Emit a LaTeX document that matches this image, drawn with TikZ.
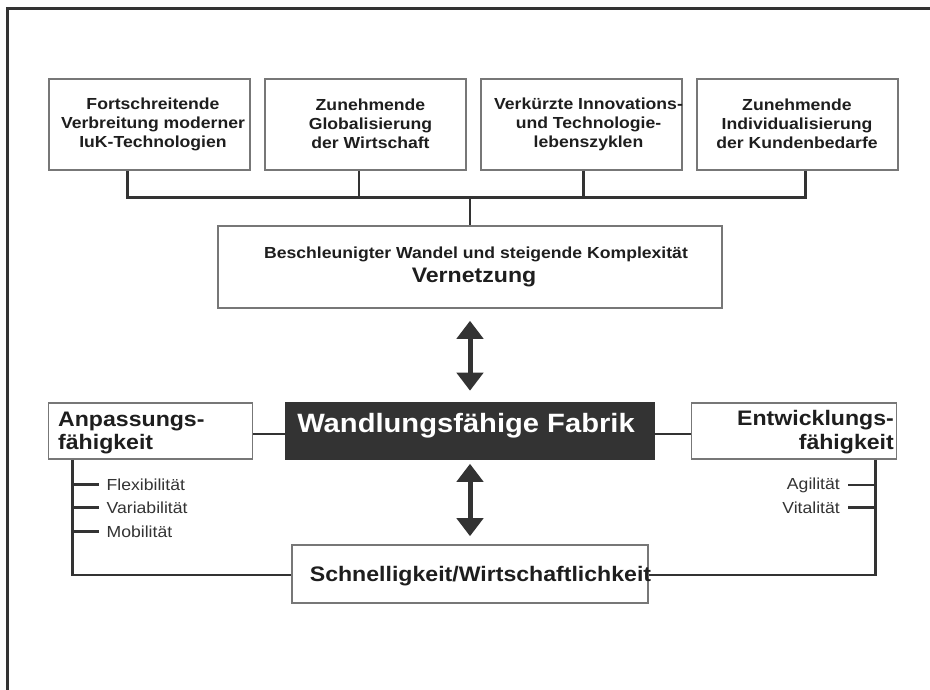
\documentclass[tikz,border=0pt]{standalone}
\usepackage{fontspec}
\setmainfont{Liberation Sans}[FakeStretch=1.1]
\usetikzlibrary{arrows.meta}
\definecolor{ink}{HTML}{1E1E1E}
\definecolor{linegray}{HTML}{333333}
\definecolor{boxgray}{HTML}{777777}
\definecolor{darkfill}{HTML}{333333}
\begin{document}
\begin{tikzpicture}[x=1pt,y=-1pt,
  box/.style={draw=boxgray,line width=1.6pt,fill=white,rectangle,inner sep=0pt},
  topbox/.style={box,minimum width=201pt,minimum height=91pt},
  toptext/.style={font=\bfseries\fontsize{16}{19}\selectfont,align=center,text=ink,inner sep=0pt},
  sidetext/.style={font=\bfseries\fontsize{21}{23.5}\selectfont,text=ink,inner sep=0pt},
  itemtext/.style={font=\fontsize{16}{19}\selectfont,text=linegray,inner sep=0pt},
  bus/.style={draw=linegray,line width=3pt},
  tick/.style={draw=linegray,line width=2.8pt},
  dblarrow/.style={draw=linegray,line width=5pt,
    {Triangle[width=26pt,length=18pt]}-{Triangle[width=26pt,length=18pt]}}
]
\useasboundingbox (0,0) rectangle (930,690);

% outer frame (top and left edges)
\draw[linegray,line width=3pt] (7.5,690) -- (7.5,9) -- (930,9);

% four driver boxes
\node[topbox] (b1) at (149.7,124.5) {};
\node[topbox] (b2) at (365.5,124.5) {};
\node[topbox] (b3) at (581.2,124.5) {};
\node[topbox] (b4) at (797.3,124.5) {};
\node[toptext] (t1) at (153,124) {Fortschreitende\\Verbreitung moderner\\IuK-Technologien};
\node[toptext] (t2) at (370.5,124) {Zunehmende\\Globalisierung\\der Wirtschaft};
\node[toptext] (t3) at (588.5,124) {Verkürzte Innovations-\\und Technologie-\\lebenszyklen};
\node[toptext] (t4) at (797,124) {Zunehmende\\Individualisierung\\der Kundenbedarfe};

% central change box
\node[box,minimum width=504pt,minimum height=82pt] (mid) at (470,267) {};
\node[font=\bfseries\fontsize{16}{19}\selectfont,text=ink,inner sep=0pt] (midA) at (476,254)
  {Beschleunigter Wandel und steigende Komplexität};
\node[font=\bfseries\fontsize{21}{24}\selectfont,text=ink,inner sep=0pt] (midB) at (474,278) {Vernetzung};

% bus connecting the drivers
\coordinate (k1) at (127.3,198);
\coordinate (k2) at (359,198);
\coordinate (k3) at (583.3,198);
\coordinate (k4) at (805.7,198);
\coordinate (kc) at (470,198);
\draw[tick] (k1 |- b1.south) -- (k1);
\draw[tick] (k2 |- b2.south) -- (k2);
\draw[tick] (k3 |- b3.south) -- (k3);
\draw[tick] (k4 |- b4.south) -- (k4);
\draw[bus] ([xshift=-1.4pt]k1) -- ([xshift=1.4pt]k4);
\draw[draw=linegray,line width=2.2pt] (kc) -- (mid.north);

% factory and its two capabilities
\node[box,draw=darkfill,fill=darkfill,minimum width=368pt,minimum height=56pt] (wf) at (470,431) {};
\node[font=\bfseries\fontsize{26.5}{28}\selectfont,text=white,inner sep=0pt] (wft) at (466,426)
  {Wandlungsfähige Fabrik};
\node[box,minimum width=204pt,minimum height=56pt] (anp) at (150.6,431) {};
\node[box,minimum width=205pt,minimum height=56pt] (ent) at (794.1,431) {};
\node[sidetext,align=left,anchor=west] (anpt) at (58,433) {Anpassungs-\\fähigkeit};
\node[sidetext,align=right,anchor=east] (entt) at (894,432) {Entwicklungs-\\fähigkeit};
\draw[tick] ([yshift=-3pt]anp.east) -- ([yshift=-3pt]wf.west);
\draw[tick] ([yshift=-3pt]wf.east) -- ([yshift=-3pt]ent.west);

% speed / efficiency box
\node[box,minimum width=356pt,minimum height=58pt] (sw) at (470,574) {};
\node[font=\bfseries\fontsize{21}{24}\selectfont,text=ink,inner sep=0pt] (swt) at (480.5,576)
  {Schnelligkeit/Wirtschaftlichkeit};

% double arrows
\draw[dblarrow,shorten <=12pt,shorten >=11.5pt] (mid.south) -- (wf.north);
\draw[dblarrow,shorten <=4pt,shorten >=8pt] (wf.south) -- (sw.north);

% left branch
\coordinate (L) at (72.3,575);
\draw[tick,line join=miter] (L |- anp.south) -- (L) -- (sw.west |- L);
\coordinate (f1) at (72.3,484.3);
\coordinate (f2) at (72.3,507.5);
\coordinate (f3) at (72.3,531.7);
\draw[tick] (f1) -- ++(27,0);
\draw[tick] (f2) -- ++(27,0);
\draw[tick] (f3) -- ++(27,0);
\node[itemtext,anchor=west] (i1) at (106.5,484.3) {Flexibilität};
\node[itemtext,anchor=west] (i2) at (106.5,507.5) {Variabilität};
\node[itemtext,anchor=west] (i3) at (106.5,531.7) {Mobilität};

% right branch
\coordinate (R) at (875.3,575);
\draw[tick,line join=miter] (R |- ent.south) -- (R) -- (sw.east |- R);
\coordinate (g1) at (875.3,485);
\coordinate (g2) at (875.3,507.5);
\draw[tick] (g1) -- ++(-27,0);
\draw[tick] (g2) -- ++(-27,0);
\node[itemtext,anchor=east] (j1) at (840,485) {Agilität};
\node[itemtext,anchor=east] (j2) at (840,507.5) {Vitalität};
\end{tikzpicture}
\end{document}
